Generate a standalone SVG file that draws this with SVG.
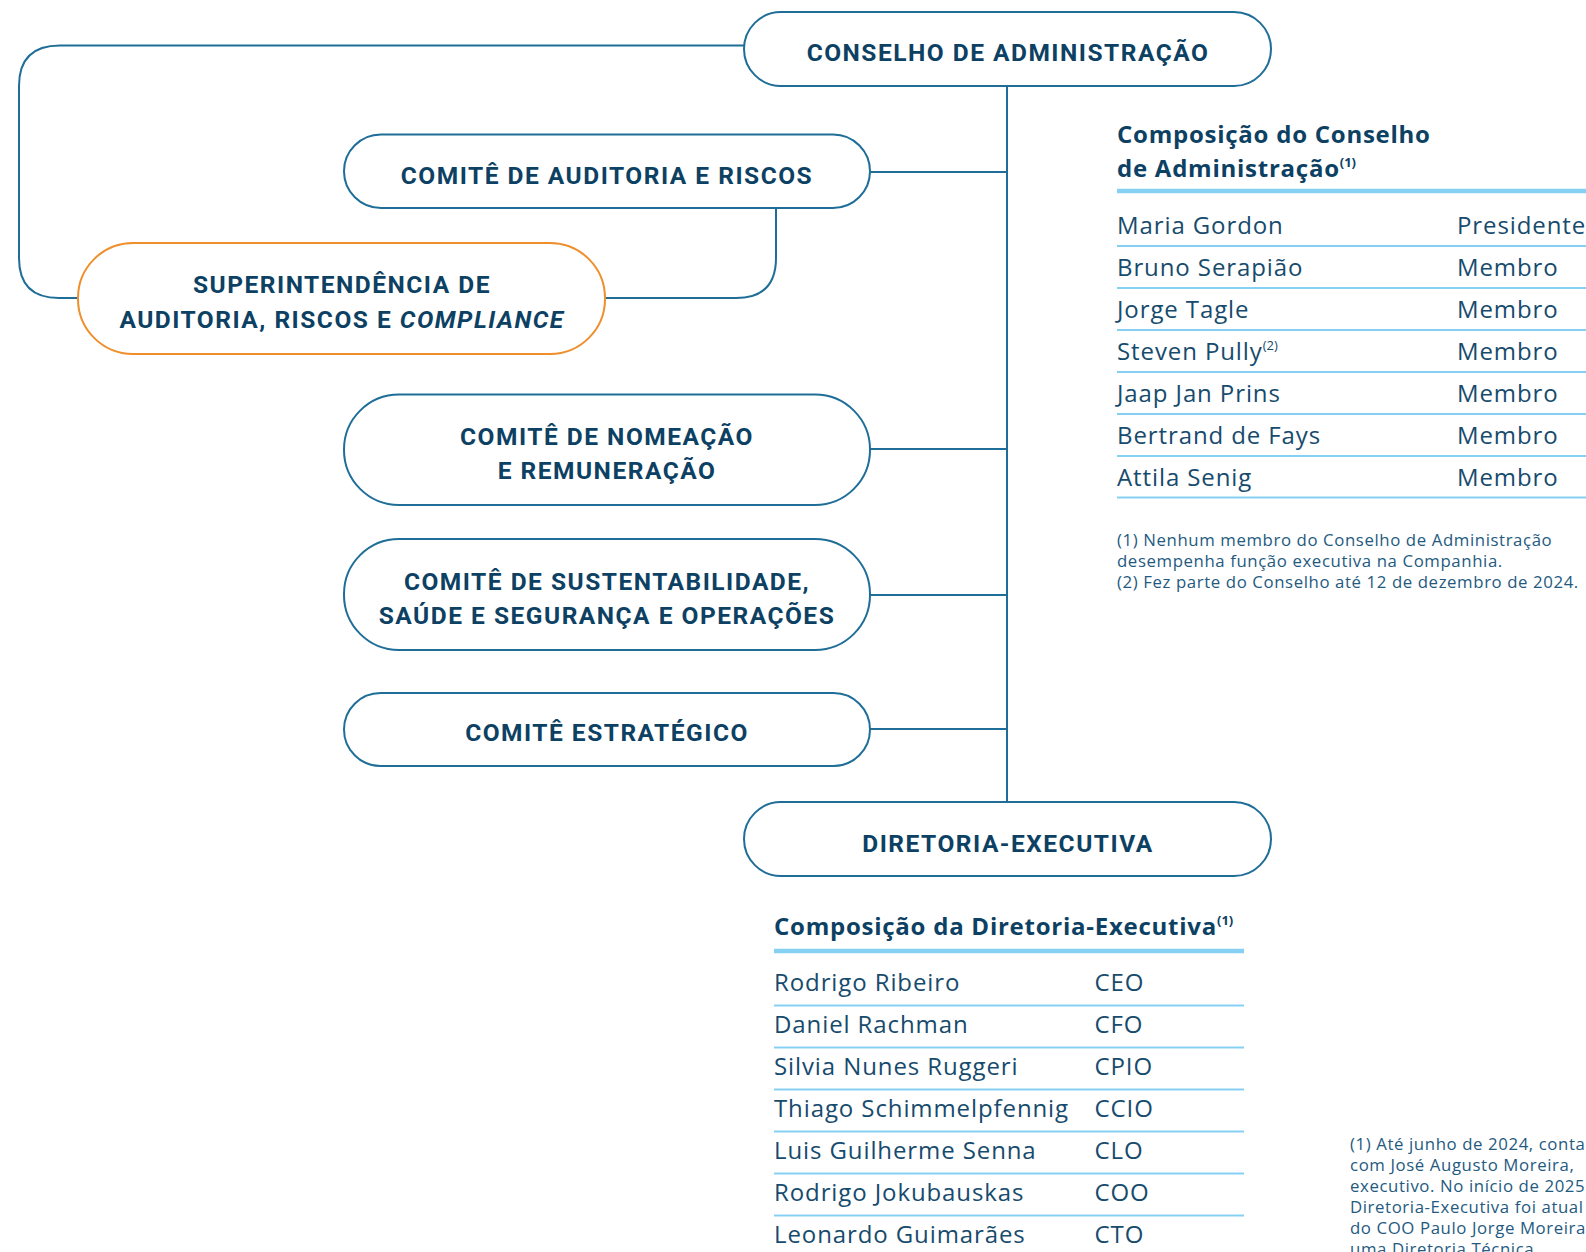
<svg xmlns="http://www.w3.org/2000/svg" width="1586" height="1252" viewBox="0 0 1586 1252">
<style>
.node{fill:#fff;stroke:#1F6E98;stroke-width:2}
.orange{stroke:#EF8F2C}
.lbl{font-family:Roboto,"Liberation Sans",sans-serif;font-weight:700;font-size:24.5px;letter-spacing:1.5px;fill:#0D4163;text-anchor:middle}
.conn{fill:none;stroke:#1F6E98;stroke-width:2}
.ttl{font-family:"Open Sans","Liberation Sans",sans-serif;font-weight:700;font-size:24px;letter-spacing:0.75px;fill:#0D4163}
.row{font-family:"Open Sans","Liberation Sans",sans-serif;font-size:24px;letter-spacing:0.9px;fill:#174B6D}
.sep{stroke:#86D1F3;stroke-width:2}
.ul{stroke:#86D1F3;stroke-width:4.5}
.fn{font-family:"Open Sans","Liberation Sans",sans-serif;font-size:16.8px;letter-spacing:0.6px;fill:#245A80}
.sup{font-size:13px;letter-spacing:0}
</style>
<rect width="1586" height="1252" fill="#fff"/>
<g id="connectors">
<path class="conn" d="M744 45.5 H60 Q19 45.5 19 86 V258 Q19 298 59 298 H78"/>
<path class="conn" d="M1007 86 V802"/>
<path class="conn" d="M870 172 H1007"/>
<path class="conn" d="M776 208 V258 Q776 298 736 298 H605"/>
<path class="conn" d="M870 449 H1007"/>
<path class="conn" d="M870 595 H1007"/>
<path class="conn" d="M870 729 H1007"/>
</g>
<g id="conselho">
<rect class="node" x="744" y="12" width="527" height="74" rx="37"/>
<text class="lbl" x="1008" y="61">CONSELHO DE ADMINISTRAÇÃO</text>
</g>
<g id="auditoria">
<rect class="node" x="344" y="134.5" width="526" height="73.5" rx="37"/>
<text class="lbl" x="607" y="184">COMITÊ DE AUDITORIA E RISCOS</text>
</g>
<g id="superintendencia">
<rect class="node orange" x="78" y="243" width="527" height="111" rx="55"/>
<text class="lbl" x="342" y="293">SUPERINTENDÊNCIA DE</text>
<text class="lbl" x="342" y="328">AUDITORIA, RISCOS E <tspan font-style="italic">COMPLIANCE</tspan></text>
</g>
<g id="nomeacao">
<rect class="node" x="344" y="394.5" width="526" height="110.5" rx="55"/>
<text class="lbl" x="607" y="445">COMITÊ DE NOMEAÇÃO</text>
<text class="lbl" x="607" y="479">E REMUNERAÇÃO</text>
</g>
<g id="sustentabilidade">
<rect class="node" x="344" y="539" width="526" height="111" rx="55"/>
<text class="lbl" x="607" y="590">COMITÊ DE SUSTENTABILIDADE,</text>
<text class="lbl" x="607" y="624">SAÚDE E SEGURANÇA E OPERAÇÕES</text>
</g>
<g id="estrategico">
<rect class="node" x="344" y="693" width="526" height="73" rx="36.5"/>
<text class="lbl" x="607" y="741">COMITÊ ESTRATÉGICO</text>
</g>
<g id="diretoria">
<rect class="node" x="744" y="802" width="527" height="74" rx="37"/>
<text class="lbl" x="1008" y="852">DIRETORIA-EXECUTIVA</text>
</g>
<g id="composicao-conselho">
<text class="ttl" x="1117" y="143">Composição do Conselho</text>
<text class="ttl" x="1117" y="177">de Administração<tspan class="sup" dy="-10">(1)</tspan></text>
<line class="ul" x1="1117" y1="191" x2="1586" y2="191"/>
<text class="row" x="1117" y="233.5">Maria Gordon</text><text class="row" x="1457" y="233.5">Presidente</text>
<line class="sep" x1="1117" y1="246" x2="1586" y2="246"/>
<text class="row" x="1117" y="275.5">Bruno Serapião</text><text class="row" x="1457" y="275.5">Membro</text>
<line class="sep" x1="1117" y1="288" x2="1586" y2="288"/>
<text class="row" x="1117" y="317.5">Jorge Tagle</text><text class="row" x="1457" y="317.5">Membro</text>
<line class="sep" x1="1117" y1="330" x2="1586" y2="330"/>
<text class="row" x="1117" y="359.5">Steven Pully<tspan class="sup" dy="-10">(2)</tspan></text><text class="row" x="1457" y="359.5">Membro</text>
<line class="sep" x1="1117" y1="372" x2="1586" y2="372"/>
<text class="row" x="1117" y="401.5">Jaap Jan Prins</text><text class="row" x="1457" y="401.5">Membro</text>
<line class="sep" x1="1117" y1="414" x2="1586" y2="414"/>
<text class="row" x="1117" y="443.5">Bertrand de Fays</text><text class="row" x="1457" y="443.5">Membro</text>
<line class="sep" x1="1117" y1="456" x2="1586" y2="456"/>
<text class="row" x="1117" y="485.5">Attila Senig</text><text class="row" x="1457" y="485.5">Membro</text>
<line class="sep" x1="1117" y1="497.5" x2="1586" y2="497.5"/>
<text class="fn" x="1117" y="546">(1) Nenhum membro do Conselho de Administração</text>
<text class="fn" x="1117" y="567">desempenha função executiva na Companhia.</text>
<text class="fn" x="1117" y="588">(2) Fez parte do Conselho até 12 de dezembro de 2024.</text>
</g>
<g id="composicao-diretoria">
<text class="ttl" x="774" y="935">Composição da Diretoria-Executiva<tspan class="sup" dy="-10">(1)</tspan></text>
<line class="ul" x1="774" y1="951" x2="1244" y2="951"/>
<text class="row" x="774" y="991">Rodrigo Ribeiro</text><text class="row" x="1094.5" y="991">CEO</text>
<line class="sep" x1="774" y1="1005.5" x2="1244" y2="1005.5"/>
<text class="row" x="774" y="1033">Daniel Rachman</text><text class="row" x="1094.5" y="1033">CFO</text>
<line class="sep" x1="774" y1="1047.5" x2="1244" y2="1047.5"/>
<text class="row" x="774" y="1075">Silvia Nunes Ruggeri</text><text class="row" x="1094.5" y="1075">CPIO</text>
<line class="sep" x1="774" y1="1089.5" x2="1244" y2="1089.5"/>
<text class="row" x="774" y="1117">Thiago Schimmelpfennig</text><text class="row" x="1094.5" y="1117">CCIO</text>
<line class="sep" x1="774" y1="1131.5" x2="1244" y2="1131.5"/>
<text class="row" x="774" y="1159">Luis Guilherme Senna</text><text class="row" x="1094.5" y="1159">CLO</text>
<line class="sep" x1="774" y1="1173.5" x2="1244" y2="1173.5"/>
<text class="row" x="774" y="1201">Rodrigo Jokubauskas</text><text class="row" x="1094.5" y="1201">COO</text>
<line class="sep" x1="774" y1="1215.5" x2="1244" y2="1215.5"/>
<text class="row" x="774" y="1243">Leonardo Guimarães</text><text class="row" x="1094.5" y="1243">CTO</text>
</g>
<g id="nota-diretoria">
<text class="fn" x="1350" y="1150">(1) Até junho de 2024, conta</text>
<text class="fn" x="1350" y="1171">com José Augusto Moreira,</text>
<text class="fn" x="1350" y="1192">executivo. No início de 2025</text>
<text class="fn" x="1350" y="1213">Diretoria-Executiva foi atual</text>
<text class="fn" x="1350" y="1234">do COO Paulo Jorge Moreira</text>
<text class="fn" x="1350" y="1255">uma Diretoria Técnica.</text>
</g>
</svg>
